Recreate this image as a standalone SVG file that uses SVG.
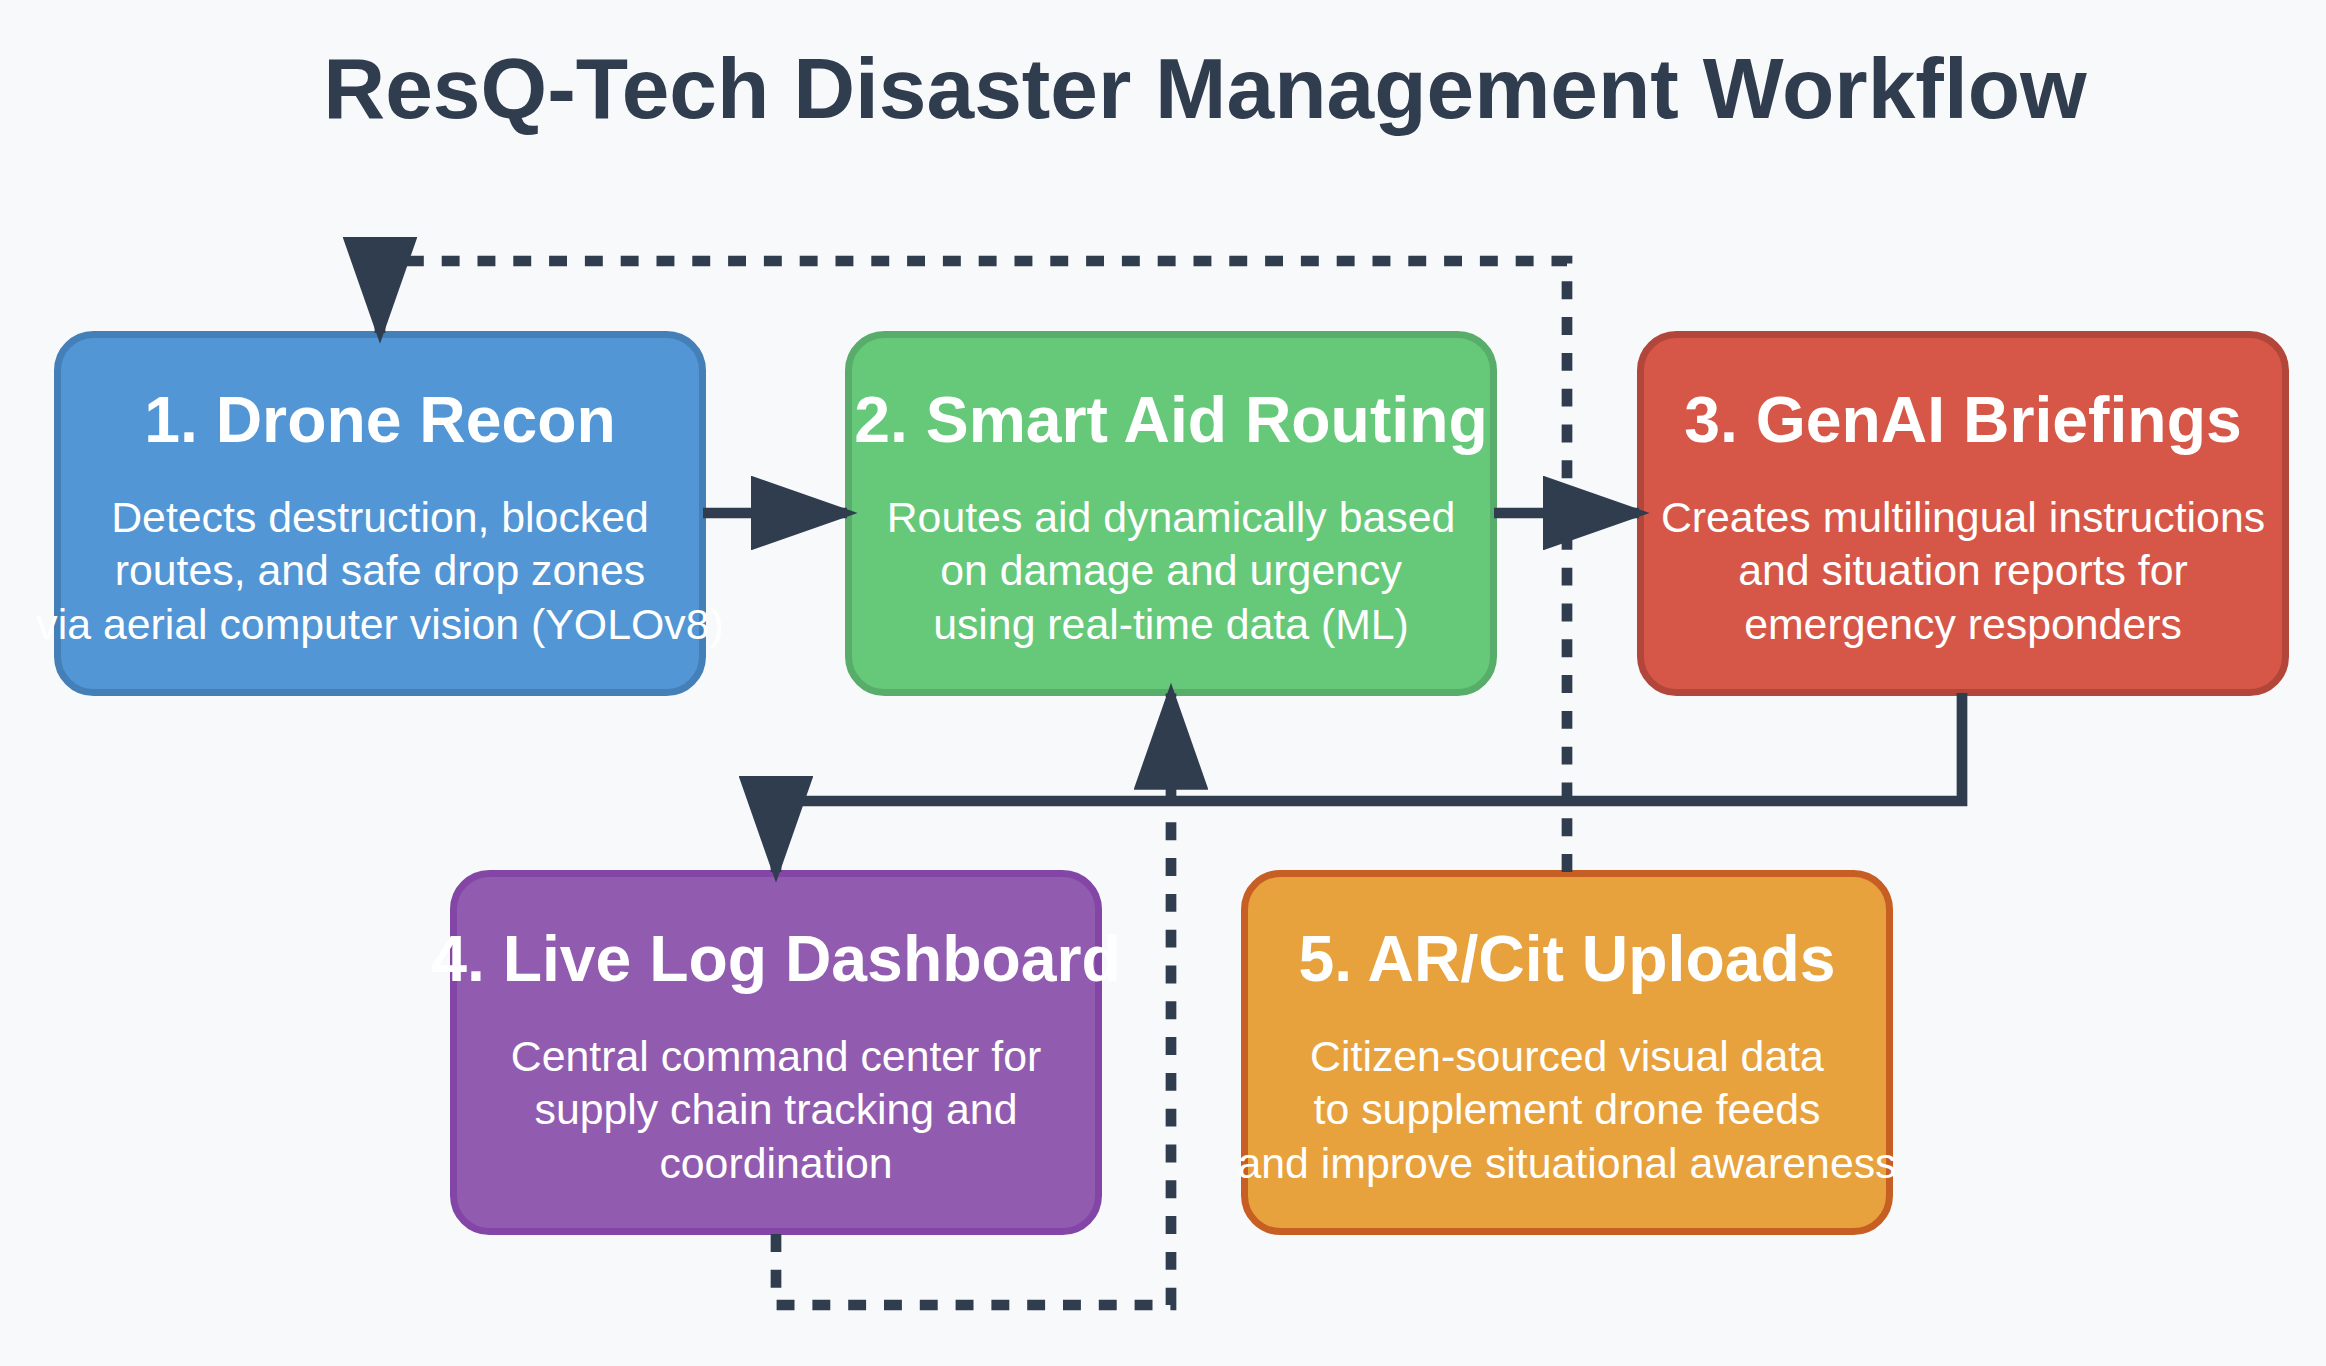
<svg xmlns="http://www.w3.org/2000/svg" width="2326" height="1366" viewBox="0 0 2326 1366">
  <defs>
    <style>
      .bg { fill: #f8f9fa; }
      .title { font-family: "Liberation Sans", Arial, sans-serif; font-weight: bold; font-size: 85.7px; fill: #2f3d4f; text-anchor: middle; }
      .box { stroke-width: 7; }
      .head { font-family: "Liberation Sans", Arial, sans-serif; font-weight: bold; font-size: 64.3px; fill: #ffffff; text-anchor: middle; }
      .desc { font-family: "Liberation Sans", Arial, sans-serif; font-size: 42.8px; fill: #ffffff; text-anchor: middle; }
      .link { fill: none; stroke: #2f3d4f; stroke-width: 10.7; stroke-linejoin: miter; stroke-linecap: butt; marker-end: url(#arrow); }
      .dashed { stroke-dasharray: 17.9 17.9; }
      .blue { fill: #5296d5; stroke: #447fb7; }
      .green { fill: #66c97a; stroke: #57ad69; }
      .red { fill: #d65748; stroke: #b3463a; }
      .purple { fill: #915caf; stroke: #8345a6; }
      .orange { fill: #e8a23d; stroke: #c75e24; }
    </style>
    <marker id="arrow" markerWidth="10" markerHeight="7" refX="9" refY="3.5" orient="auto" markerUnits="strokeWidth">
      <polygon points="0 0, 10 3.5, 0 7" fill="#2f3d4f"/>
    </marker>
  </defs>

  <rect class="bg" x="0" y="0" width="2326" height="1366"/>

  <text class="title" x="1205" y="118">ResQ-Tech Disaster Management Workflow</text>

  <!-- Step 1 -->
  <g id="node-drone-recon">
    <rect class="box blue" x="57.5" y="334.5" width="645" height="358" rx="36" ry="36"/>
    <text class="head" x="380" y="441.7">1. Drone Recon</text>
    <text class="desc" x="380" y="531.5">Detects destruction, blocked</text>
    <text class="desc" x="380" y="585">routes, and safe drop zones</text>
    <text class="desc" x="380" y="638.5">via aerial computer vision (YOLOv8)</text>
  </g>

  <!-- Step 2 -->
  <g id="node-smart-aid-routing">
    <rect class="box green" x="848.5" y="334.5" width="645" height="358" rx="36" ry="36"/>
    <text class="head" x="1171" y="441.7">2. Smart Aid Routing</text>
    <text class="desc" x="1171" y="531.5">Routes aid dynamically based</text>
    <text class="desc" x="1171" y="585">on damage and urgency</text>
    <text class="desc" x="1171" y="638.5">using real-time data (ML)</text>
  </g>

  <!-- Step 3 -->
  <g id="node-genai-briefings">
    <rect class="box red" x="1640.5" y="334.5" width="645" height="358" rx="36" ry="36"/>
    <text class="head" x="1963" y="441.7">3. GenAI Briefings</text>
    <text class="desc" x="1963" y="531.5">Creates multilingual instructions</text>
    <text class="desc" x="1963" y="585">and situation reports for</text>
    <text class="desc" x="1963" y="638.5">emergency responders</text>
  </g>

  <!-- Step 4 -->
  <g id="node-live-log-dashboard">
    <rect class="box purple" x="453.5" y="873.5" width="645" height="358" rx="36" ry="36"/>
    <text class="head" x="776" y="980.7">4. Live Log Dashboard</text>
    <text class="desc" x="776" y="1070.5">Central command center for</text>
    <text class="desc" x="776" y="1124">supply chain tracking and</text>
    <text class="desc" x="776" y="1177.5">coordination</text>
  </g>

  <!-- Step 5 -->
  <g id="node-ar-cit-uploads">
    <rect class="box orange" x="1244.5" y="873.5" width="645" height="358" rx="36" ry="36"/>
    <text class="head" x="1567" y="980.7">5. AR/Cit Uploads</text>
    <text class="desc" x="1567" y="1070.5">Citizen-sourced visual data</text>
    <text class="desc" x="1567" y="1124">to supplement drone feeds</text>
    <text class="desc" x="1567" y="1177.5">and improve situational awareness</text>
  </g>

  <!-- Flow links -->
  <g id="connectors">
    <path id="link-1-2" class="link" d="M 703 513 H 847"/>
    <path id="link-2-3" class="link" d="M 1494 513 H 1639"/>
    <path id="link-3-4" class="link" d="M 1962 693 V 801 H 776 V 872"/>
    <path id="link-4-2" class="link dashed" d="M 776 1234 V 1305 H 1171 V 693.5"/>
    <path id="link-5-1" class="link dashed" d="M 1567 872 V 261 H 380 V 333"/>
  </g>
</svg>
